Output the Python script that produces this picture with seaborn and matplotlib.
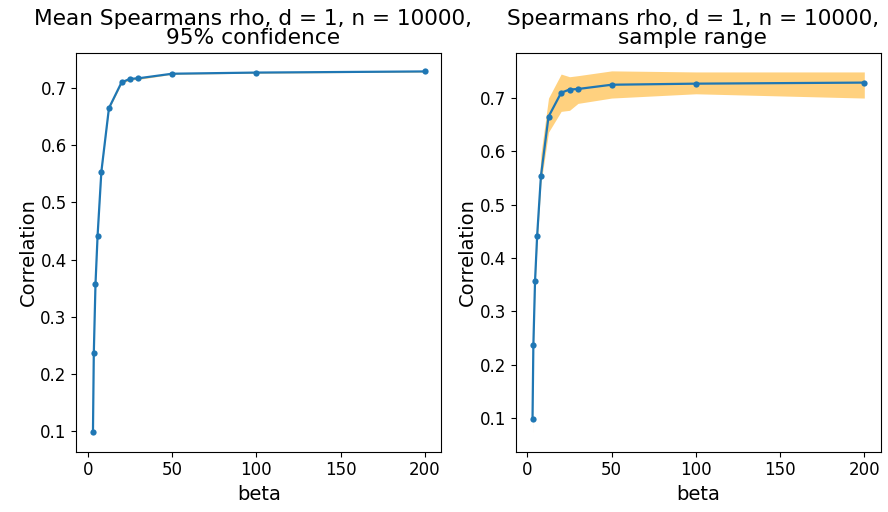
import matplotlib
matplotlib.use("Agg")
import matplotlib.pyplot as plt
import seaborn as sns
import numpy as np

beta = [3, 3.5, 4.5, 5.75, 8, 12.5, 20, 25, 30, 50, 100, 200]
mean_rho = [0.098, 0.236, 0.357, 0.442, 0.554, 0.665, 0.710, 0.716, 0.717, 0.725, 0.727, 0.729]
ci_low = [0.096, 0.234, 0.355, 0.440, 0.552, 0.663, 0.708, 0.714, 0.715, 0.724, 0.726, 0.728]
ci_high = [0.100, 0.238, 0.359, 0.444, 0.556, 0.667, 0.712, 0.718, 0.719, 0.726, 0.728, 0.730]
range_low = [0.071, 0.226, 0.345, 0.428, 0.540, 0.636, 0.675, 0.677, 0.690, 0.700, 0.708, 0.700]
range_high = [0.110, 0.247, 0.370, 0.465, 0.595, 0.700, 0.745, 0.740, 0.742, 0.751, 0.749, 0.749]

titles = ["Mean Spearmans rho, d = 1, n = 10000,\n95% confidence",
          "Spearmans rho, d = 1, n = 10000,\nsample range"]

fig = plt.figure(figsize=(8.88, 5.12), dpi=100)
ax1 = fig.add_axes([0.086, 0.118, 0.411, 0.779])
ax2 = fig.add_axes([0.581, 0.118, 0.411, 0.779])

for ax, lo, hi, title in [(ax1, ci_low, ci_high, titles[0]), (ax2, range_low, range_high, titles[1])]:
    ax.fill_between(beta, lo, hi, color="orange", alpha=0.5, lw=0, zorder=1)
    sns.lineplot(x=beta, y=mean_rho, ax=ax, color="#1f77b4", marker="o",
                 markersize=4.5, markeredgewidth=0, linewidth=1.6, zorder=2)
    ax.set_title(title, fontsize=15.6, linespacing=0.95, x=0.485)
    ax.set_xlabel("beta", fontsize=14)
    ax.set_ylabel("Correlation", fontsize=14, labelpad=2)
    ax.tick_params(labelsize=12)
    ax.set_xticks([0, 50, 100, 150, 200])
    ax.set_yticks([0.1, 0.2, 0.3, 0.4, 0.5, 0.6, 0.7])

fig.savefig("out.png", dpi=100)
